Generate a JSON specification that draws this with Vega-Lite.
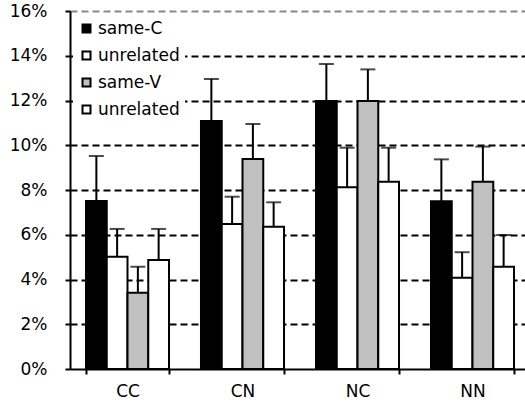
{
  "$schema": "https://vega.github.io/schema/vega-lite/v6.json",
  "width": 455,
  "height": 358,
  "autosize": {"type": "none"},
  "padding": {"left": 70, "top": 11, "right": 0, "bottom": 36},
  "background": "white",
  "config": {
    "view": {"stroke": null},
    "font": "DejaVu Sans",
    "axis": {
      "domainColor": "black",
      "domainWidth": 2,
      "tickColor": "black",
      "tickWidth": 2,
      "tickSize": 5,
      "labelFont": "DejaVu Sans",
      "labelFontSize": 17,
      "labelColor": "black",
      "title": null
    }
  },
  "data": {
    "values": [
      {"cat": "CC", "series": "same-C", "value": 0.0751, "upper": 0.0952},
      {"cat": "CC", "series": "unrelated-C", "value": 0.0502, "upper": 0.0626},
      {"cat": "CC", "series": "same-V", "value": 0.0341, "upper": 0.0457},
      {"cat": "CC", "series": "unrelated-V", "value": 0.0487, "upper": 0.0626},
      {"cat": "CN", "series": "same-C", "value": 0.1108, "upper": 0.1296},
      {"cat": "CN", "series": "unrelated-C", "value": 0.0648, "upper": 0.0770},
      {"cat": "CN", "series": "same-V", "value": 0.0939, "upper": 0.1095},
      {"cat": "CN", "series": "unrelated-V", "value": 0.0636, "upper": 0.0745},
      {"cat": "NC", "series": "same-C", "value": 0.1198, "upper": 0.1363},
      {"cat": "NC", "series": "unrelated-C", "value": 0.0812, "upper": 0.0989},
      {"cat": "NC", "series": "same-V", "value": 0.1198, "upper": 0.1339},
      {"cat": "NC", "series": "unrelated-V", "value": 0.0837, "upper": 0.0989},
      {"cat": "NN", "series": "same-C", "value": 0.0750, "upper": 0.0937},
      {"cat": "NN", "series": "unrelated-C", "value": 0.0408, "upper": 0.0522},
      {"cat": "NN", "series": "same-V", "value": 0.0837, "upper": 0.0994},
      {"cat": "NN", "series": "unrelated-V", "value": 0.0457, "upper": 0.0599}
    ]
  },
  "encoding": {
    "x": {
      "field": "cat",
      "type": "nominal",
      "sort": ["CC", "CN", "NC", "NN"],
      "scale": {"paddingInner": 0.278, "paddingOuter": 0.139, "range": [0, 460]},
      "axis": {"labelAngle": 0, "tickBand": "extent", "labelPadding": 9, "grid": false}
    },
    "xOffset": {
      "field": "series",
      "type": "nominal",
      "sort": ["same-C", "unrelated-C", "same-V", "unrelated-V"],
      "scale": {"paddingInner": 0, "paddingOuter": 0}
    }
  },
  "layer": [
    {
      "mark": {"type": "bar", "stroke": "black", "strokeWidth": 2},
      "encoding": {
        "y": {
          "field": "value",
          "type": "quantitative",
          "scale": {"domain": [0, 0.16], "nice": false},
          "axis": {
            "format": ".0%",
            "values": [0, 0.02, 0.04, 0.06, 0.08, 0.1, 0.12, 0.14, 0.16],
            "labelPadding": 18,
            "grid": true,
            "gridDash": [7, 4],
            "gridWidth": 2,
            "gridColor": {"condition": {"test": "datum.value >= 0.159", "value": "#888888"}, "value": "black"},
            "gridOpacity": {"condition": {"test": "datum.value < 0.001", "value": 0}, "value": 1}
          }
        },
        "fill": {
          "field": "series",
          "type": "nominal",
          "scale": {
            "domain": ["same-C", "unrelated-C", "same-V", "unrelated-V"],
            "range": ["black", "white", "#c0c0c0", "white"]
          },
          "legend": {
            "title": null,
            "orient": "none",
            "legendX": 3,
            "legendY": 4,
            "fillColor": "white",
            "padding": 5,
            "symbolType": "square",
            "symbolSize": 64,
            "symbolStrokeColor": "black",
            "symbolStrokeWidth": 2,
            "labelFont": "DejaVu Sans",
            "labelFontSize": 17,
            "labelColor": "black",
            "labelOffset": 3,
            "rowPadding": 9,
            "labelExpr": "indexof(datum.value, 'unrelated') == 0 ? 'unrelated' : datum.value"
          }
        }
      }
    },
    {
      "mark": {"type": "rule", "color": "black", "strokeWidth": 2},
      "encoding": {
        "y": {"field": "value", "type": "quantitative"},
        "y2": {"field": "upper"}
      }
    },
    {
      "mark": {"type": "tick", "color": "black", "thickness": 2, "size": 15, "orient": "horizontal"},
      "encoding": {
        "y": {"field": "upper", "type": "quantitative"}
      }
    }
  ]
}
